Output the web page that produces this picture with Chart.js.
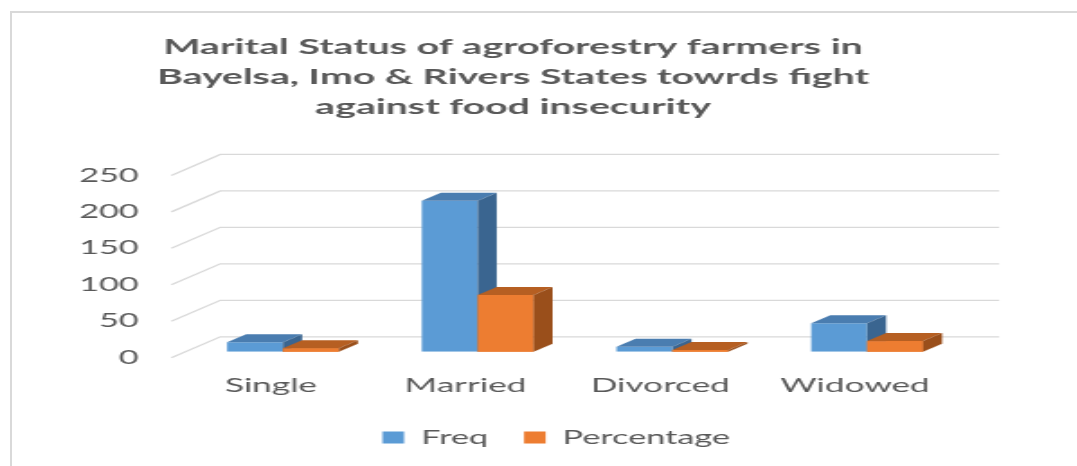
<!DOCTYPE html>
<html>
<head>
<meta charset="utf-8">
<script src="https://cdn.jsdelivr.net/npm/chart.js@4.4.1/dist/chart.umd.min.js"></script>
<style>
  html, body { margin: 0; padding: 0; background: #fff; }
  body { width: 1077px; height: 466px; position: relative; overflow: hidden; }
  .frame-top { position: absolute; left: 10px; top: 11px; width: 1067px; height: 2px; background: #d9d9d9; }
  .frame-left { position: absolute; left: 10px; top: 11px; width: 2px; height: 455px; background: #d9d9d9; }
  /* the original picture is stretched sideways, so draw narrow and stretch */
  #wrap { position: absolute; left: 0; top: 0; width: 598.33px; height: 466px; transform: scaleX(1.8); transform-origin: 0 0; }
</style>
</head>
<body>
<div class="frame-top"></div>
<div class="frame-left"></div>
<div id="wrap"><canvas id="maritalChart"></canvas></div>
<script>
const categories = ['Single', 'Married', 'Divorced', 'Widowed'];
const freqValues = [13, 207, 7, 39];
const percentValues = [4.9, 77.8, 2.6, 14.7];
const yMax = 250;
const yStep = 50;

const textColor = '#595959';
const gridColor = '#d9d9d9';

// offsets for the fake 3d look (canvas px, before the sideways stretch)
const depth = { frontX: -7.9, frontY: 6, backX: 19.3, backY: -15, barX: 10.6, barY: -8 };
const shades = [
  { top: '#4a7db0', side: '#3a6590' },
  { top: '#b65f22', side: '#9a4f1b' }
];

function fillPoly(ctx, pts) {
  ctx.beginPath();
  ctx.moveTo(pts[0][0], pts[0][1]);
  for (let i = 1; i < pts.length; i++) ctx.lineTo(pts[i][0], pts[i][1]);
  ctx.closePath();
  ctx.fill();
}

const fake3d = {
  id: 'fake3d',
  afterLayout(chart) {
    // legend sits a little right of centre in the original
    chart.legend.left += 24;
    chart.legend.right += 24;
  },
  beforeDatasetsDraw(chart) {
    const { ctx, chartArea, scales: { y } } = chart;
    ctx.save();
    ctx.strokeStyle = gridColor;
    ctx.lineWidth = 1.3;
    y.ticks.forEach(t => {
      const py = y.getPixelForValue(t.value);
      ctx.beginPath();
      ctx.moveTo(chartArea.left + depth.frontX, py + depth.frontY);
      ctx.lineTo(chartArea.left + depth.backX, py + depth.backY);
      ctx.lineTo(chartArea.right + depth.backX, py + depth.backY);
      ctx.stroke();
    });
    ctx.restore();
  },
  afterDatasetsDraw(chart) {
    const ctx = chart.ctx;
    const dx = depth.barX, dy = depth.barY;
    ctx.save();
    chart.data.datasets.forEach((ds, i) => {
      chart.getDatasetMeta(i).data.forEach(bar => {
        const { x, y, base, width } = bar.getProps(['x', 'y', 'base', 'width'], true);
        const l = x - width / 2, r = x + width / 2;
        // second series stands in front of the first one's side face
        if (i > 0) bar.draw(ctx);
        ctx.fillStyle = shades[i].top;
        fillPoly(ctx, [[l, y], [r, y], [r + dx, y + dy], [l + dx, y + dy]]);
        ctx.fillStyle = shades[i].side;
        fillPoly(ctx, [[r, y], [r + dx, y + dy], [r + dx, base + dy], [r, base]]);
      });
    });
    ctx.restore();
  }
};

new Chart(document.getElementById('maritalChart'), {
  type: 'bar',
  data: {
    labels: categories,
    datasets: [{
      label: 'Freq',
      data: freqValues,
      backgroundColor: '#5b9bd5'
    }, {
      label: 'Percentage',
      data: percentValues,
      backgroundColor: '#ed7d31'
    }]
  },
  options: {
    responsive: true,
    maintainAspectRatio: false,
    animation: false,
    layout: { padding: { left: 34.2, right: 62.5, top: 0, bottom: 9 } },
    datasets: {
      bar: { barPercentage: 1, categoryPercentage: 0.574 }
    },
    scales: {
      y: {
        min: 0,
        max: yMax,
        afterFit(scale) { scale.width = 68.9; },
        ticks: {
          stepSize: yStep,
          color: textColor,
          font: { family: 'Lato', size: 19 },
          padding: 26,
          labelOffset: 6
        },
        grid: { display: false, drawTicks: false },
        border: { display: false }
      },
      x: {
        afterFit(scale) { scale.height = 56.2; },
        ticks: {
          color: textColor,
          font: { family: 'Lato', size: 19.5 },
          padding: 22,
          labelOffset: -6.7
        },
        grid: { display: false, drawTicks: false },
        border: { display: false }
      }
    },
    plugins: {
      title: {
        display: true,
        text: ['Marital Status of agroforestry farmers in', 'Bayelsa, Imo & Rivers States towrds fight', 'against food insecurity'],
        color: textColor,
        font: { family: 'Lato', size: 21.8, weight: 'bold', lineHeight: 1.376 },
        padding: { top: 32, bottom: 47.4 }
      },
      legend: {
        position: 'bottom',
        labels: {
          color: textColor,
          font: { family: 'Lato', size: 19 },
          boxWidth: 12,
          boxHeight: 12,
          padding: 20
        }
      },
      tooltip: { enabled: false }
    }
  },
  plugins: [fake3d]
});
</script>
</body>
</html>
